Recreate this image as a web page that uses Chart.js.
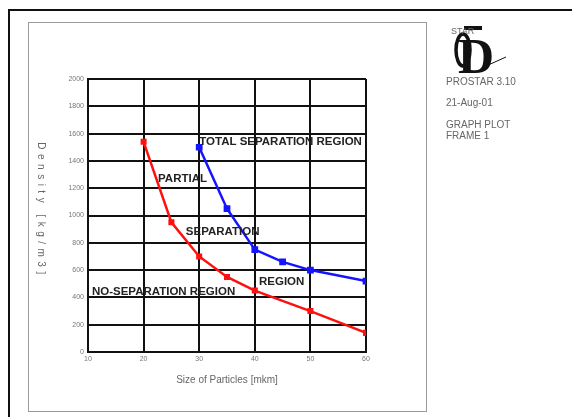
<!DOCTYPE html>
<html>
<head>
<meta charset="utf-8">
<script src="https://cdn.jsdelivr.net/npm/chart.js@4"></script>
<style>
  html, body { margin: 0; padding: 0; background: #fff; }
  canvas { display: block; }
</style>
</head>
<body>
<canvas id="chart" width="572" height="417"></canvas>
<script>
// particle size [mkm] vs density [kg/m3]
const noSepSizes = [20, 25, 30, 35, 40, 50, 60];
const noSepDensity = [1540, 950, 700, 550, 450, 300, 140];
const totalSepSizes = [30, 35, 40, 45, 50, 60];
const totalSepDensity = [1500, 1050, 750, 660, 600, 520];

const xTicks = [10, 20, 30, 40, 50, 60];
const yTicks = [0, 200, 400, 600, 800, 1000, 1200, 1400, 1600, 1800, 2000];

// region labels, placed in data coordinates
const regionTexts = ['TOTAL SEPARATION REGION', 'PARTIAL', 'SEPARATION', 'REGION', 'NO-SEPARATION REGION'];
const regionX = [30, 22.6, 27.6, 40.75, 10.7];
const regionY = [1540, 1267, 879, 513, 440];

const sideTexts = ['PROSTAR 3.10', '21-Aug-01', 'GRAPH PLOT', 'FRAME 1'];

function toPoints(xs, ys) {
    return xs.map((x, i) => ({ x: x, y: ys[i] }));
}

const pageDecor = {
    id: 'pageDecor',
    beforeDraw(chart) {
        const c = chart.ctx;
        c.save();
        c.fillStyle = '#fff';
        c.fillRect(0, 0, chart.width, chart.height);
        // outer frame
        c.strokeStyle = '#111';
        c.lineWidth = 2;
        c.beginPath();
        c.moveTo(9, chart.height);
        c.lineTo(9, 10);
        c.lineTo(chart.width, 10);
        c.stroke();
        // inner gray box
        c.strokeStyle = '#9a9a9a';
        c.lineWidth = 1;
        c.strokeRect(28.5, 22.5, 398, 389);
        c.restore();
    },
    afterDraw(chart) {
        const c = chart.ctx;
        const xs = chart.scales.x, ys = chart.scales.y;
        c.save();
        // region labels
        c.fillStyle = '#222';
        c.font = 'bold 11.5px "Liberation Sans", Arial, sans-serif';
        c.textBaseline = 'middle';
        c.textAlign = 'left';
        regionTexts.forEach((t, i) => {
            c.fillText(t, xs.getPixelForValue(regionX[i]), ys.getPixelForValue(regionY[i]));
        });

        // y title, reads top to bottom
        c.fillStyle = '#666';
        c.font = '10px "Liberation Sans", Arial, sans-serif';
        c.letterSpacing = '4.5px';
        c.translate(41, (chart.chartArea.top + chart.chartArea.bottom) / 2 - 5);
        c.rotate(Math.PI / 2);
        c.textAlign = 'center';
        c.fillText('Density [kg/m3]', 0, 0);
        c.restore();

        // logo + side info
        c.save();
        c.fillStyle = '#111';
        c.strokeStyle = '#111';
        c.font = 'bold 50px "Liberation Serif", serif';
        c.textBaseline = 'alphabetic';
        c.fillText('D', 458, 73);
        c.lineWidth = 3.5;
        c.beginPath();
        c.ellipse(463, 50, 7, 16, 0, 0, Math.PI * 2);
        c.stroke();
        c.lineWidth = 4;
        c.beginPath();
        c.moveTo(464, 28);
        c.lineTo(482, 28);
        c.stroke();
        c.lineWidth = 1;
        c.beginPath();
        c.moveTo(486, 66);
        c.lineTo(506, 57);
        c.stroke();
        c.fillStyle = '#666';
        c.font = '9px "Liberation Sans", Arial, sans-serif';
        c.fillText('STAR', 451, 34);
        c.font = '10px "Liberation Sans", Arial, sans-serif';
        c.textBaseline = 'middle';
        c.fillText(sideTexts[0], 446, 82);
        c.fillText(sideTexts[1], 446, 103);
        c.fillText(sideTexts[2], 446, 125);
        c.fillText(sideTexts[3], 446, 136);
        c.restore();
    }
};

const ctx = document.getElementById('chart').getContext('2d');
new Chart(ctx, {
    type: 'line',
    data: {
        datasets: [{
            label: 'no separation limit',
            data: toPoints(noSepSizes, noSepDensity),
            borderColor: '#ff1010',
            backgroundColor: '#ff1010',
            borderWidth: 2.5,
            pointStyle: 'rect',
            pointRadius: 2.5,
            pointHoverRadius: 2.5,
            tension: 0
        }, {
            label: 'total separation limit',
            data: toPoints(totalSepSizes, totalSepDensity),
            borderColor: '#1414ff',
            backgroundColor: '#1414ff',
            borderWidth: 2.5,
            pointStyle: 'rect',
            pointRadius: 3,
            pointHoverRadius: 3,
            tension: 0
        }]
    },
    options: {
        responsive: false,
        animation: false,
        events: [],
        layout: { padding: { left: 0, top: 79, right: 206, bottom: 31 } },
        plugins: {
            legend: { display: false },
            tooltip: { enabled: false }
        },
        scales: {
            x: {
                type: 'linear',
                min: 10,
                max: 60,
                afterBuildTicks: (s) => { s.ticks = xTicks.map(v => ({ value: v })); },
                afterFit: (s) => { s.height = 34; },
                grid: { color: '#111', lineWidth: 2, drawTicks: false },
                border: { color: '#111', width: 2 },
                ticks: { color: '#777', font: { size: 7, family: '"Liberation Sans", Arial' }, padding: 3, maxRotation: 0, callback: (v) => String(v) },
                title: {
                    display: true,
                    text: 'Size of Particles [mkm]',
                    color: '#666',
                    font: { size: 10, family: '"Liberation Sans", Arial' },
                    padding: { top: 0, bottom: 0 }
                }
            },
            y: {
                min: 0,
                max: 2000,
                afterBuildTicks: (s) => { s.ticks = yTicks.map(v => ({ value: v })); },
                afterFit: (s) => { s.width = 88; },
                grid: { color: '#111', lineWidth: 2, drawTicks: false },
                border: { color: '#111', width: 2 },
                ticks: { color: '#777', font: { size: 7, family: '"Liberation Sans", Arial' }, padding: 4, callback: (v) => String(v) }
            }
        }
    },
    plugins: [pageDecor]
});
</script>
</body>
</html>
